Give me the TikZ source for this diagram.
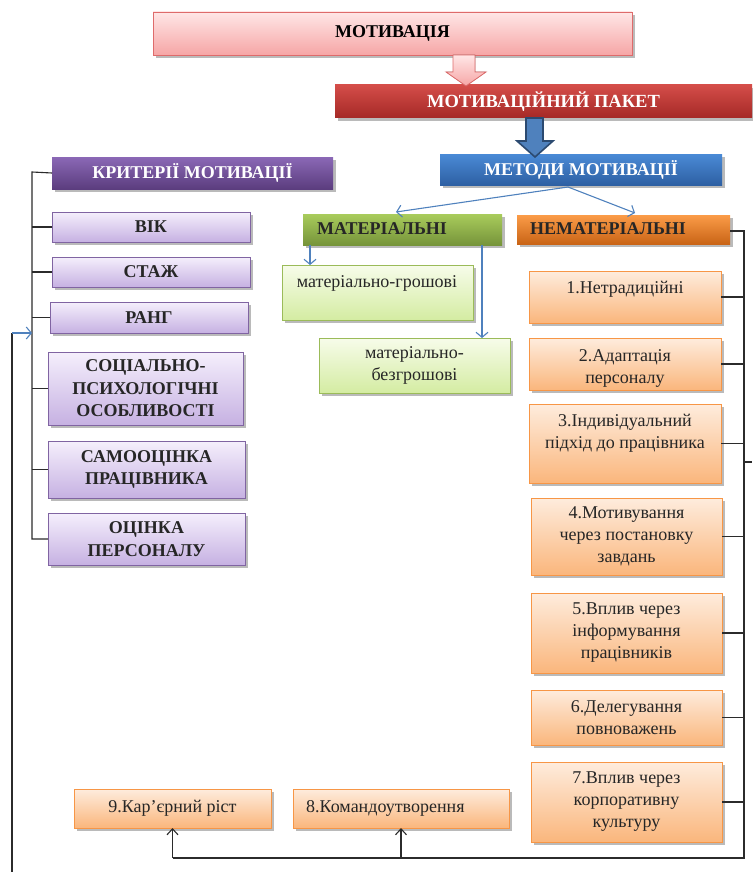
\documentclass[tikz,border=0pt]{standalone}
\usepackage{fontspec}
\setmainfont{Liberation Serif}
\usetikzlibrary{shadows,arrows.meta}
\definecolor{pinkTop}{HTML}{FFE6E6}
\definecolor{pinkBot}{HTML}{F6A6A6}
\definecolor{pinkLine}{HTML}{DE6B6B}
\definecolor{redTop}{HTML}{D44D49}
\definecolor{redBot}{HTML}{A52926}
\definecolor{blueTop}{HTML}{4A8AD6}
\definecolor{blueBot}{HTML}{2E60A3}
\definecolor{blueLine}{HTML}{4F81BD}
\definecolor{blueDark}{HTML}{2C4A70}
\definecolor{purTop}{HTML}{8B68B6}
\definecolor{purBot}{HTML}{5B3D7E}
\definecolor{lavTop}{HTML}{F5EFFC}
\definecolor{lavBot}{HTML}{C6B1E2}
\definecolor{lavLine}{HTML}{8064A2}
\definecolor{grnTop}{HTML}{A9CC5C}
\definecolor{grnBot}{HTML}{76943A}
\definecolor{lgTop}{HTML}{F7FCEA}
\definecolor{lgBot}{HTML}{D4ECA2}
\definecolor{lgLine}{HTML}{9BBB59}
\definecolor{orTop}{HTML}{FB9C48}
\definecolor{orBot}{HTML}{C96416}
\definecolor{loTop}{HTML}{FEECDD}
\definecolor{loBot}{HTML}{FAB67C}
\definecolor{loLine}{HTML}{F79646}
\definecolor{lineGrey}{HTML}{2B2B2B}
\newcommand\boxat[6]{\node[#1, minimum width={(#4-#2)*1pt}, minimum height={(#5-#3)*1pt}] (#6) at ({(#2+#4)/2},{(#3+#5)/2})}
\tikzset{
  base/.style={rectangle, inner sep=0pt, outer sep=0pt, align=center,
    font=\fontsize{18}{22}\selectfont,
    drop shadow={shadow xshift=2.5pt, shadow yshift=-3pt, opacity=0.45, fill=black!60}},
  motbox/.style={base, top color=pinkTop, bottom color=pinkBot, draw=pinkLine, line width=0.8pt, font=\fontsize{18}{22}\selectfont\bfseries},
  redbox/.style={base, top color=redTop, bottom color=redBot, draw=none, text=white, font=\fontsize{18.5}{22}\selectfont\bfseries},
  bluebox/.style={base, top color=blueTop, bottom color=blueBot, draw=none, text=white, font=\fontsize{18}{22}\selectfont\bfseries},
  purbox/.style={base, top color=purTop, bottom color=purBot, draw=none, text=white, font=\fontsize{18}{22}\selectfont\bfseries},
  lavbox/.style={base, top color=lavTop, bottom color=lavBot, draw=lavLine, line width=0.8pt, text=black!85, font=\fontsize{18}{22.5}\selectfont\bfseries},
  grnbox/.style={base, top color=grnTop, bottom color=grnBot, draw=none, text=black!85, font=\fontsize{18}{22}\selectfont\bfseries},
  lgbox/.style={base, top color=lgTop, bottom color=lgBot, draw=lgLine, line width=0.8pt, text=black!85},
  orbox/.style={base, top color=orTop, bottom color=orBot, draw=none, text=black!85, font=\fontsize{18}{22}\selectfont\bfseries},
  lobox/.style={base, top color=loTop, bottom color=loBot, draw=loLine, line width=0.8pt, text=black!85},
  txt/.style={inner sep=0pt, align=center, text=black!85, font=\fontsize{18}{22}\selectfont},
  bline/.style={draw=lineGrey, line width=1.1pt},
  blueconn/.style={draw=blueLine, line width=1.1pt, -{Straight Barb[length=5pt,width=12pt,line width=1.1pt]}},
  upconn/.style={draw=lineGrey, line width=1.1pt, -{Straight Barb[length=6pt,width=11pt,line width=1.1pt]}}
}
\begin{document}
\begin{tikzpicture}[x=1pt,y=-1pt]
\useasboundingbox (0,0) rectangle (752,872);
% top chain
\boxat{motbox}{153}{12}{632}{55}{mot} {МОТИВАЦІЯ};
\boxat{redbox}{335}{85}{752}{118}{pack} {МОТИВАЦІЙНИЙ ПАКЕТ};
\boxat{bluebox}{440}{154}{722}{185}{meth} {МЕТОДИ МОТИВАЦІЇ};
% block arrows
\filldraw[top color=pinkTop, bottom color=pinkBot, draw=pinkLine, line width=0.8pt]
  (453,55) -- (475,55) -- (475,72) -- (486,72) -- (466,86) -- (446,72) -- (453,72) -- cycle;
\filldraw[fill=blueLine, draw=blueDark, line width=1.6pt]
  (526,118) -- (543,118) -- (543,141) -- (553,141) -- (535,157) -- (517,141) -- (526,141) -- cycle;
% left column
\boxat{purbox}{52}{157}{333}{189}{crit} {КРИТЕРІЇ МОТИВАЦІЇ};
\boxat{lavbox}{52}{212}{250}{242}{vik} {ВІК};
\boxat{lavbox}{52}{257}{250}{287}{stazh} {СТАЖ};
\boxat{lavbox}{50}{302}{248}{333}{rang} {РАНГ};
\boxat{lavbox}{48}{352}{243}{425}{soc} {СОЦІАЛЬНО-\\ПСИХОЛОГІЧНІ\\ОСОБЛИВОСТІ};
\boxat{lavbox}{48}{441}{245}{498}{samo} {САМООЦІНКА\\ПРАЦІВНИКА};
\boxat{lavbox}{48}{513}{245}{565}{ocin} {ОЦІНКА\\ПЕРСОНАЛУ};
% middle column
\boxat{grnbox}{303}{214}{502}{245}{mat} {};
\node[txt, font=\fontsize{18}{22}\selectfont\bfseries, anchor=west] (matt) at (317,229) {МАТЕРІАЛЬНІ};
\boxat{lgbox}{282}{265}{473}{320}{mg} {};
\node[txt] (mgt) at (377,283) {матеріально-грошові};
\boxat{lgbox}{319}{338}{510}{393}{mb} {матеріально-\\безгрошові};
% right column
\boxat{orbox}{517}{215}{730}{244}{nemat} {};
\node[txt, font=\fontsize{18}{22}\selectfont\bfseries, anchor=west] (nematt) at (530,229) {НЕМАТЕРІАЛЬНІ};
\boxat{lobox}{529}{271}{721}{323}{n1} {};
\node[txt] (n1t) at (625,289) {1.Нетрадиційні};
\boxat{lobox}{529}{338}{721}{390}{n2} {};
\node[txt] (n2t) at (625,368) {2.Адаптація\\персоналу};
\boxat{lobox}{529}{404}{721}{483}{n3} {};
\node[txt] (n3t) at (625,433) {3.Індивідуальний\\підхід до працівника};
\boxat{lobox}{531}{498}{722}{575}{n4} {4.Мотивування\\через постановку\\завдань};
\boxat{lobox}{531}{593}{722}{673}{n5} {5.Вплив через\\інформування\\працівників};
\boxat{lobox}{531}{690}{722}{745}{n6} {6.Делегування\\повноважень};
\boxat{lobox}{531}{762}{722}{842}{n7} {7.Вплив через\\корпоративну\\культуру};
% bottom row
\boxat{lobox}{74}{789}{271}{828}{n9} {9.Кар’єрний ріст};
\boxat{lobox}{293}{789}{509}{828}{n8} {};
\node[txt, anchor=west] (n8t) at (306,808) {8.Командоутворення};
% blue connectors
\coordinate (apex) at (568,187);
\draw[blueconn] (apex) -- (396,212);
\draw[blueconn] (apex) -- (635,213);
\draw[blueconn] (mat.south west) ++(7,0) coordinate (ma1) -- (ma1 |- mg.north);
\coordinate (ma2) at (482,245);
\draw[blueconn] (ma2) -- (ma2 |- mb.north);
% left bracket
\coordinate (lb) at (32,172);
\draw[bline] (crit.west) -- (lb) -- (lb |- ocin.west) -- (ocin.west);
\foreach \n in {vik,stazh,rang,soc,samo}{\draw[bline] (\n.west) -- (\n.west -| lb);}
% feedback line
\coordinate (fbb) at (12,872);
\coordinate (fbt) at (12,333);
\draw[bline] (fbb) -- (fbt);
\draw[blueconn] (fbt) -- (fbt -| lb);
% right bracket
\coordinate (rb) at (744,231);
\coordinate (rbb) at (744,858);
\draw[bline] (nemat.east |- rb) -- (rb) -- (rbb) -- (rbb -| n9.south) coordinate (b9);
\foreach \n in {n1,n2,n3,n4,n5,n6,n7}{\draw[bline] (\n.east) -- (\n.east -| rb);}
\coordinate (rx) at (752,462);
\draw[bline] (rx -| rb) -- (rx);
\draw[upconn] (b9) -- (n9.south);
\draw[upconn] (rbb -| n8.south) -- (n8.south);
\end{tikzpicture}
\end{document}
